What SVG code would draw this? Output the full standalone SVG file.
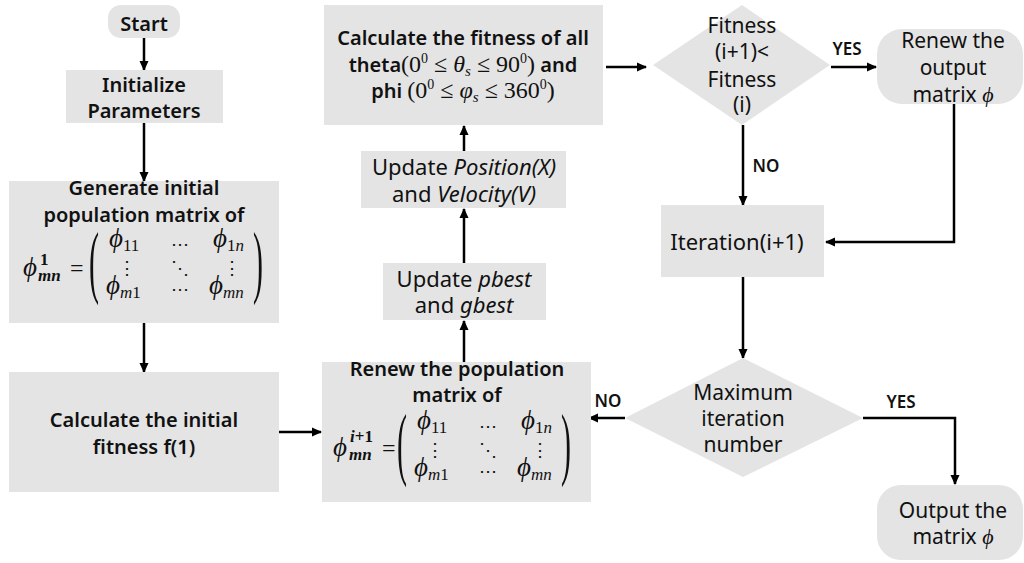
<svg xmlns="http://www.w3.org/2000/svg" xmlns:xlink="http://www.w3.org/1999/xlink" width="1024" height="563" viewBox="0 0 1024 563">
<style>
.box{fill:#e4e4e4;stroke:none}
.b{font-family:"Noto Sans","Liberation Sans",sans-serif;font-weight:600;font-size:20px;fill:#111;text-anchor:middle}
.r{font-family:"Noto Sans","Liberation Sans",sans-serif;font-weight:normal;font-size:21px;fill:#111;text-anchor:middle}
.r22{font-family:"Noto Sans","Liberation Sans",sans-serif;font-weight:normal;font-size:22px;fill:#111;text-anchor:middle}
.lab{font-family:"Noto Sans","Liberation Sans",sans-serif;font-weight:600;font-size:17px;fill:#111;text-anchor:middle}
.m{font-family:"Liberation Serif","DejaVu Serif",serif;font-weight:normal;fill:#111}
.phi{font-family:"Liberation Serif","DejaVu Serif",serif;font-style:italic;font-size:27px;fill:#111}
.sub{font-family:"Liberation Serif","DejaVu Serif",serif;font-size:17px;fill:#111}
.dots{font-family:"DejaVu Serif",serif;font-size:18px;fill:#111;text-anchor:middle}
.par{font-family:"Liberation Serif","DejaVu Serif",serif;font-size:30px;font-weight:normal;fill:#111}
.conn{fill:none;stroke:#000;stroke-width:2.5}
</style>
<defs>
<marker id="ah" markerUnits="userSpaceOnUse" markerWidth="10" markerHeight="10" refX="9" refY="5" orient="auto">
<path d="M0,0.5 L10,5 L0,9.5 z" fill="#000"/>
</marker>
<g id="mat">
<text class="par" transform="translate(0,20.8) scale(1,2.7)">(</text>
<text class="par" transform="translate(164,20.8) scale(1,2.7)">)</text>
<text class="phi" x="20" y="-20">ϕ<tspan class="sub" font-style="normal" dy="4">11</tspan></text>
<text class="dots" x="91" y="-17">⋯</text>
<text class="phi" x="124" y="-20">ϕ<tspan class="sub" font-style="normal" dy="4">1</tspan><tspan class="sub" font-style="italic">n</tspan></text>
<text class="dots" x="38" y="7">⋮</text>
<text class="dots" x="91" y="7">⋱</text>
<text class="dots" x="143" y="7">⋮</text>
<text class="phi" x="17" y="27">ϕ<tspan class="sub" font-style="italic" dy="4">m</tspan><tspan class="sub" font-style="normal">1</tspan></text>
<text class="dots" x="91" y="28">⋯</text>
<text class="phi" x="120" y="27">ϕ<tspan class="sub" font-style="italic" dy="4">mn</tspan></text>
</g>
</defs>

<g id="connectors">
<line class="conn" x1="144" y1="38" x2="144" y2="70" marker-end="url(#ah)"/>
<line class="conn" x1="144" y1="123" x2="144" y2="181" marker-end="url(#ah)"/>
<line class="conn" x1="144" y1="323" x2="144" y2="372" marker-end="url(#ah)"/>
<line class="conn" x1="279" y1="432" x2="321" y2="432" marker-end="url(#ah)"/>
<line class="conn" x1="464" y1="362" x2="464" y2="321" marker-end="url(#ah)"/>
<line class="conn" x1="464" y1="263" x2="464" y2="209" marker-end="url(#ah)"/>
<line class="conn" x1="464" y1="151" x2="464" y2="126" marker-end="url(#ah)"/>
<line class="conn" x1="606" y1="67" x2="646" y2="67" marker-end="url(#ah)"/>
<line class="conn" x1="831" y1="67" x2="876" y2="67" marker-end="url(#ah)"/>
<line class="conn" x1="743" y1="125" x2="743" y2="205" marker-end="url(#ah)"/>
<polyline class="conn" points="954,104 954,242 826,242" marker-end="url(#ah)"/>
<line class="conn" x1="743" y1="277" x2="743" y2="358" marker-end="url(#ah)"/>
<line class="conn" x1="625" y1="418" x2="589" y2="418" marker-end="url(#ah)"/>
<polyline class="conn" points="863,418 955,418 955,484" marker-end="url(#ah)"/>
<text class="lab" x="847" y="55">YES</text>
<text class="lab" x="766" y="172">NO</text>
<text class="lab" x="608" y="407">NO</text>
<text class="lab" x="901" y="408">YES</text>
</g>

<g id="start">
<rect class="box" x="108" y="5" width="72" height="33" rx="13"/>
<text class="b" x="144" y="31">Start</text>
</g>

<g id="init">
<rect class="box" x="66" y="70" width="157" height="53"/>
<text class="b" x="144" y="92">Initialize</text>
<text class="b" x="144" y="118">Parameters</text>
</g>

<g id="generate">
<rect class="box" x="9" y="181" width="270" height="142"/>
<text class="b" x="144" y="195">Generate initial</text>
<text class="b" x="144" y="222">population matrix of</text>
<text class="phi" x="23" y="276">ϕ</text>
<text class="sub" x="40" y="265" font-weight="bold">1</text>
<text class="sub" x="38" y="281" font-weight="bold" font-style="italic">mn</text>
<text class="m" x="70" y="276" style="font-size:24px">=</text>
<use xlink:href="#mat" href="#mat" transform="translate(89,267)"/>
</g>

<g id="calc-init">
<rect class="box" x="9" y="372" width="270" height="120"/>
<text class="b" x="144" y="427">Calculate the initial</text>
<text class="b" x="144" y="454">fitness f(1)</text>
</g>

<g id="renew-pop">
<rect class="box" x="322" y="362" width="269" height="140"/>
<text class="b" x="457" y="376">Renew the population</text>
<text class="b" x="457" y="402">matrix of</text>
<text class="phi" x="333" y="456">ϕ</text>
<text class="sub" x="350" y="442" font-weight="bold" font-style="italic">i<tspan font-style="normal">+1</tspan></text>
<text class="sub" x="349" y="460" font-weight="bold" font-style="italic">mn</text>
<text class="m" x="382" y="456" style="font-size:24px">=</text>
<use xlink:href="#mat" href="#mat" transform="translate(397,449)"/>
</g>

<g id="update-best">
<rect class="box" x="383" y="263" width="163" height="57"/>
<text class="r22" x="464" y="287">Update <tspan font-style="italic">pbest</tspan></text>
<text class="r22" x="464" y="313">and <tspan font-style="italic">gbest</tspan></text>
</g>

<g id="update-pos">
<rect class="box" x="361" y="151" width="205" height="57"/>
<text class="r22" x="464" y="175">Update <tspan font-style="italic">Position(X)</tspan></text>
<text class="r22" x="464" y="202">and <tspan font-style="italic">Velocity(V)</tspan></text>
</g>

<g id="calc-all">
<rect class="box" x="324" y="5" width="279" height="120"/>
<text class="b" x="463" y="45">Calculate the fitness of all</text>
<text class="b" x="463" y="72">theta<tspan class="m" style="font-size:24px">(0</tspan><tspan class="m" style="font-size:14px" dy="-9">0</tspan><tspan class="m" style="font-size:24px" dy="9"> ≤ </tspan><tspan class="m" style="font-size:24px;font-style:italic">θ</tspan><tspan class="m" style="font-size:15px;font-style:italic" dy="4">s</tspan><tspan class="m" style="font-size:24px" dy="-4"> ≤ 90</tspan><tspan class="m" style="font-size:14px" dy="-9">0</tspan><tspan class="m" style="font-size:24px" dy="9">)</tspan> and</text>
<text class="b" x="463" y="98">phi <tspan class="m" style="font-size:24px">(0</tspan><tspan class="m" style="font-size:14px" dy="-9">0</tspan><tspan class="m" style="font-size:24px" dy="9"> ≤ </tspan><tspan class="m" style="font-size:24px;font-style:italic">φ</tspan><tspan class="m" style="font-size:15px;font-style:italic" dy="4">s</tspan><tspan class="m" style="font-size:24px" dy="-4"> ≤ 360</tspan><tspan class="m" style="font-size:14px" dy="-9">0</tspan><tspan class="m" style="font-size:24px" dy="9">)</tspan></text>
</g>

<g id="fitness-check">
<polygon class="box" points="653,65 742,5 830,65 742,125"/>
<text class="r" x="742" y="33">Fitness</text>
<text class="r" x="742" y="59">(i+1)&lt;</text>
<text class="r" x="742" y="87">Fitness</text>
<text class="r" x="742" y="112">(i)</text>
</g>

<g id="renew-output">
<rect class="box" x="877" y="29" width="146" height="75" rx="25"/>
<text class="r" x="953" y="48">Renew the</text>
<text class="r" x="953" y="75">output</text>
<text class="r" x="953" y="102">matrix <tspan class="m" style="font-size:22px;font-style:italic">ϕ</tspan></text>
</g>

<g id="iteration">
<rect class="box" x="661" y="205" width="163" height="72"/>
<text class="r22" x="737" y="250">Iteration(i+1)</text>
</g>

<g id="max-iter">
<polygon class="box" points="625,418 743,358 863,418 743,477"/>
<text class="r" x="743" y="400">Maximum</text>
<text class="r" x="743" y="426">iteration</text>
<text class="r" x="743" y="452">number</text>
</g>

<g id="output">
<rect class="box" x="877" y="485" width="146" height="75" rx="24"/>
<text class="r" x="953" y="518">Output the</text>
<text class="r" x="953" y="544">matrix <tspan class="m" style="font-size:22px;font-style:italic">ϕ</tspan></text>
</g>
</svg>
